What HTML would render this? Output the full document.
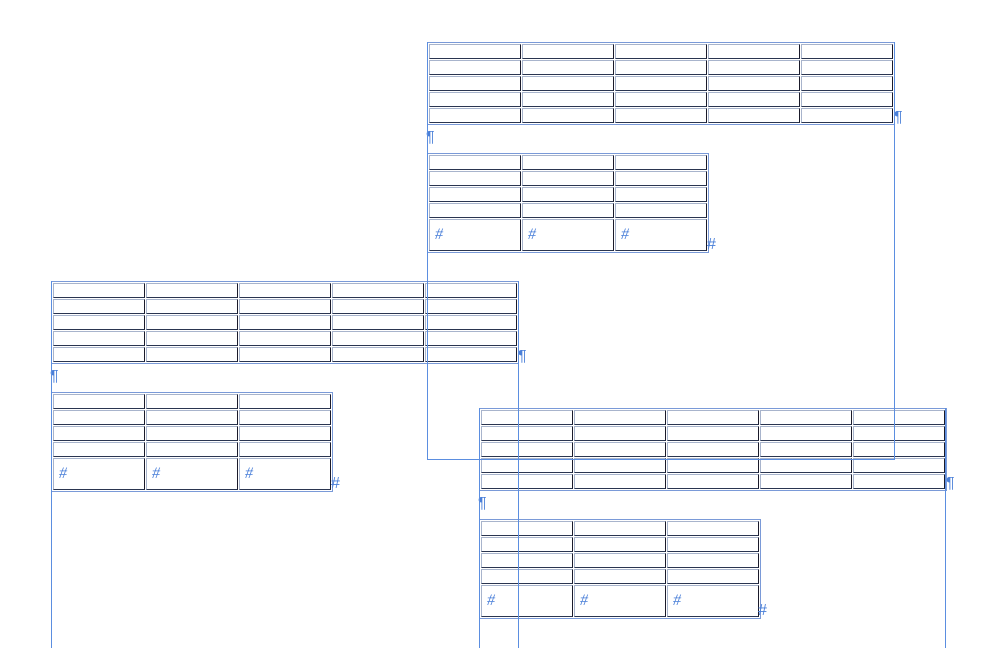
<!DOCTYPE html>
<html><head><meta charset="utf-8"><style>
body{margin:0;width:1004px;height:648px;background:#fff;position:relative;overflow:hidden;font-family:"Liberation Sans",sans-serif}
table{position:absolute;border:1px solid #7a9ad8;border-spacing:1px;padding:0;background:#fff}
td{width:90px;height:13px;padding:0;border:1px solid #a8b4cc;border-right-color:#1a1a2a;border-bottom-color:#2a3550;vertical-align:middle}
td.h{height:30px;color:#4a7fd8;font-size:16px;padding-left:5px;width:85px;font-family:"Liberation Serif",serif;font-style:italic}
.g{position:absolute;color:#4a7fd8;font-size:16px;line-height:16px}
svg{position:absolute;left:0;top:0}
</style></head><body>
<table style="left:427px;top:42px"><tr><td></td><td></td><td></td><td></td><td></td></tr><tr><td></td><td></td><td></td><td></td><td></td></tr><tr><td></td><td></td><td></td><td></td><td></td></tr><tr><td></td><td></td><td></td><td></td><td></td></tr><tr><td></td><td></td><td></td><td></td><td></td></tr></table>
<table style="left:427px;top:153px"><tr><td></td><td></td><td></td></tr><tr><td></td><td></td><td></td></tr><tr><td></td><td></td><td></td></tr><tr><td></td><td></td><td></td></tr><tr><td class="h">#</td><td class="h">#</td><td class="h">#</td></tr></table>
<div class="g" style="left:426px;top:130px">¶</div><div class="g" style="left:894px;top:110px">¶</div><div class="g" style="left:707px;top:237px">#</div>

<table style="left:51px;top:281px"><tr><td></td><td></td><td></td><td></td><td></td></tr><tr><td></td><td></td><td></td><td></td><td></td></tr><tr><td></td><td></td><td></td><td></td><td></td></tr><tr><td></td><td></td><td></td><td></td><td></td></tr><tr><td></td><td></td><td></td><td></td><td></td></tr></table>
<table style="left:51px;top:392px"><tr><td></td><td></td><td></td></tr><tr><td></td><td></td><td></td></tr><tr><td></td><td></td><td></td></tr><tr><td></td><td></td><td></td></tr><tr><td class="h">#</td><td class="h">#</td><td class="h">#</td></tr></table>
<div class="g" style="left:50px;top:369px">¶</div><div class="g" style="left:518px;top:349px">¶</div><div class="g" style="left:331px;top:476px">#</div>

<table style="left:479px;top:408px"><tr><td></td><td></td><td></td><td></td><td></td></tr><tr><td></td><td></td><td></td><td></td><td></td></tr><tr><td></td><td></td><td></td><td></td><td></td></tr><tr><td></td><td></td><td></td><td></td><td></td></tr><tr><td></td><td></td><td></td><td></td><td></td></tr></table>
<table style="left:479px;top:519px"><tr><td></td><td></td><td></td></tr><tr><td></td><td></td><td></td></tr><tr><td></td><td></td><td></td></tr><tr><td></td><td></td><td></td></tr><tr><td class="h">#</td><td class="h">#</td><td class="h">#</td></tr></table>
<div class="g" style="left:478px;top:496px">¶</div><div class="g" style="left:946px;top:476px">¶</div><div class="g" style="left:758px;top:603px">#</div>

<svg width="1004" height="648"><g fill="none" stroke="#5b8ee0" stroke-width="1">
<path d="M427.5 42V459.5H894.5V42"/>
<path d="M51.5 281V648M518.5 281V648"/>
<path d="M479.5 408V648M945.5 408V648"/>
</g></svg>
</body></html>
